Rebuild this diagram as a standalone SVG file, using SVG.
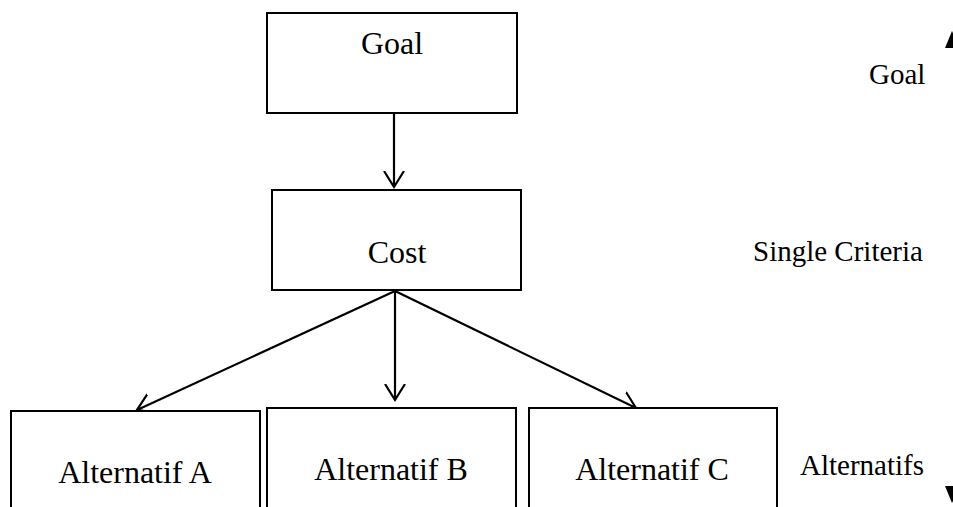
<svg xmlns="http://www.w3.org/2000/svg" width="953" height="507" viewBox="0 0 953 507">
<style>
.box{fill:#fff;stroke:#000;stroke-width:2}
.t{font-family:"Liberation Serif","Times New Roman",serif;font-size:32px;fill:#000;text-anchor:middle}
.r{font-family:"Liberation Serif","Times New Roman",serif;font-size:29px;fill:#000}
.c{fill:none;stroke:#000;stroke-width:2.2}
</style>
<defs>
<marker id="open" markerUnits="userSpaceOnUse" markerWidth="30" markerHeight="30" viewBox="-16 -15 30 30" refX="0" refY="0" orient="auto">
<path d="M-16,-10 L0,0 L-16,10" fill="none" stroke="#000" stroke-width="2.2"/>
</marker>
</defs>
<g id="connectors">
<line class="c" x1="394" y1="113" x2="394" y2="187" marker-end="url(#open)"/>
<line class="c" x1="395" y1="291" x2="137" y2="410" marker-end="url(#open)"/>
<line class="c" x1="395" y1="291" x2="395" y2="400" marker-end="url(#open)"/>
<line class="c" x1="395" y1="291" x2="636" y2="408" marker-end="url(#open)"/>
<g id="level-axis">
<line x1="954" y1="46" x2="954" y2="488" stroke="#000" stroke-width="2"/>
<polygon points="952,31 945,48 960,48" fill="#000"/>
<polygon points="952,503 945,486 960,486" fill="#000"/>
</g>
</g>
<g id="goal">
<rect class="box" x="267" y="13" width="250" height="100"/>
<text class="t" x="392" y="54">Goal</text>
</g>
<g id="cost">
<rect class="box" x="272" y="190" width="249" height="100"/>
<text class="t" x="397" y="263">Cost</text>
</g>
<g id="alt-a">
<rect class="box" x="11" y="411" width="249" height="110"/>
<text class="t" x="135" y="483">Alternatif A</text>
</g>
<g id="alt-b">
<rect class="box" x="267" y="408" width="249" height="113"/>
<text class="t" x="391" y="480">Alternatif B</text>
</g>
<g id="alt-c">
<rect class="box" x="529" y="408" width="248" height="113"/>
<text class="t" x="652" y="480">Alternatif C</text>
</g>
<g id="labels">
<text class="r" x="869" y="84">Goal</text>
<text class="r" x="753" y="261">Single Criteria</text>
<text class="r" x="800" y="475">Alternatifs</text>
</g>
</svg>
